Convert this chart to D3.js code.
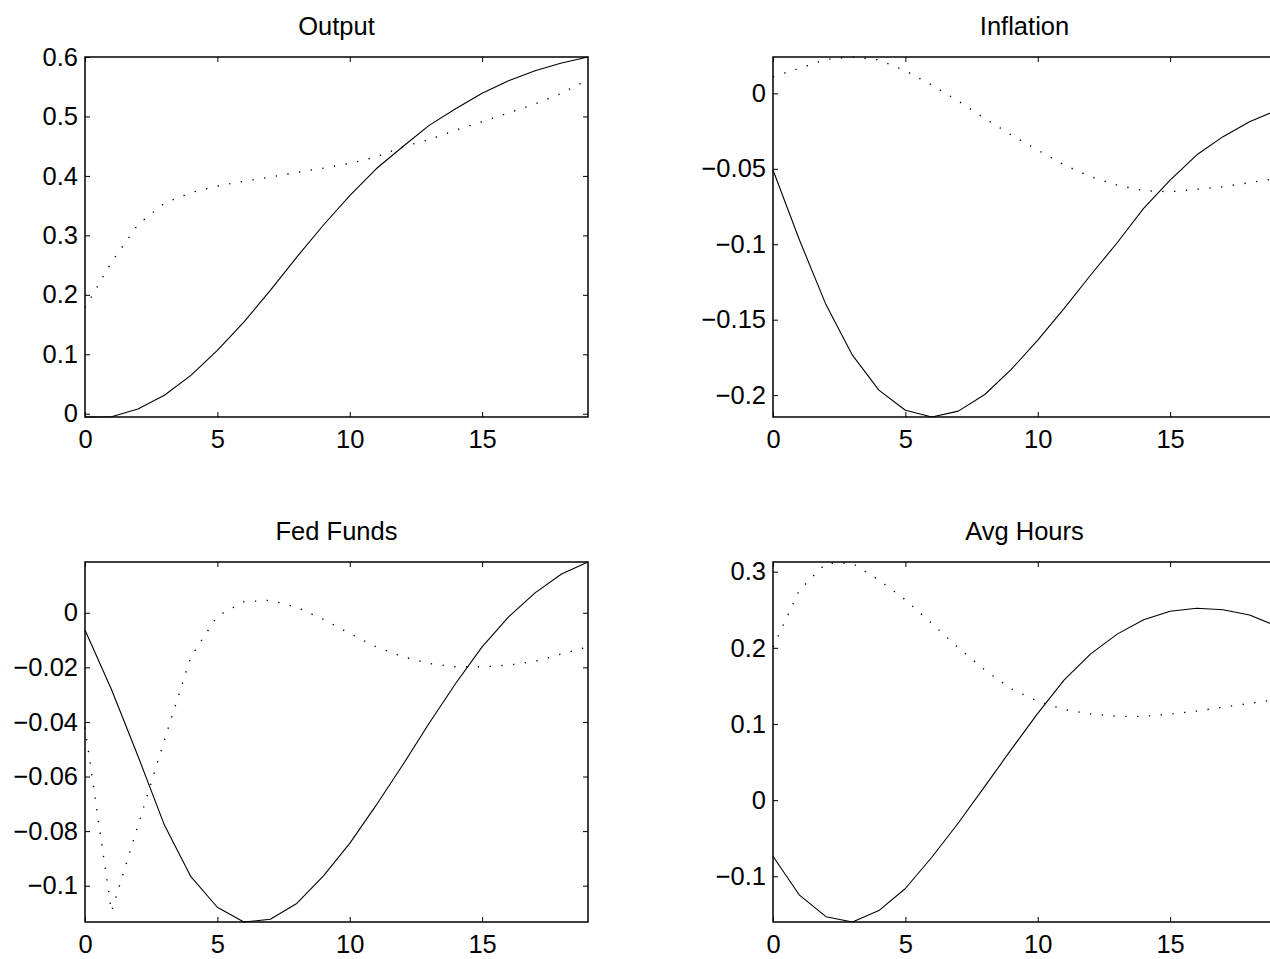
<!DOCTYPE html>
<html>
<head>
<meta charset="utf-8">
<script src="https://cdn.jsdelivr.net/npm/d3@7"></script>
<style>
  html, body { margin: 0; padding: 0; background: #fff; overflow: hidden; }
  svg { display: block; }
  text { font-family: "Liberation Sans", Arial, Helvetica, sans-serif; fill: #000; }
</style>
</head>
<body>
<script>
// Horizon (quarters after the shock)
const horizon = [0, 1, 2, 3, 4, 5, 6, 7, 8, 9, 10, 11, 12, 13, 14, 15, 16, 17, 18, 19];
const xTicks = [0, 5, 10, 15];

// Output
const outputSolid  = [-0.0055, -0.005, 0.008, 0.031, 0.0645, 0.1065, 0.154, 0.2075, 0.2635, 0.317, 0.367, 0.412, 0.449, 0.485, 0.513, 0.539, 0.560, 0.577, 0.590, 0.600];
const outputDotted = [0.178, 0.255, 0.318, 0.354, 0.372, 0.383, 0.391, 0.398, 0.406, 0.413, 0.421, 0.432, 0.449, 0.461, 0.477, 0.491, 0.506, 0.521, 0.539, 0.562];
const outputLimits = [-0.0055, 0.6];
const outputTicks  = [0, 0.1, 0.2, 0.3, 0.4, 0.5, 0.6];

// Inflation
const inflationSolid  = [-0.0508, -0.0972, -0.140, -0.1735, -0.1967, -0.210, -0.2145, -0.2106, -0.1996, -0.183, -0.1635, -0.1425, -0.1204, -0.099, -0.0762, -0.0575, -0.0409, -0.0287, -0.0188, -0.0115];
const inflationDotted = [0.011, 0.0166, 0.0225, 0.0241, 0.0222, 0.015, 0.0055, -0.0051, -0.0166, -0.0276, -0.0376, -0.0475, -0.0552, -0.0608, -0.0645, -0.0652, -0.0636, -0.0619, -0.0592, -0.0564];
const inflationLimits = [-0.2145, 0.0241];
const inflationTicks  = [-0.2, -0.15, -0.1, -0.05, 0];

// Fed Funds
const fedFundsSolid  = [-0.0063, -0.0281, -0.0525, -0.0778, -0.0967, -0.1079, -0.1133, -0.1123, -0.1065, -0.0965, -0.0845, -0.0705, -0.0558, -0.0405, -0.0259, -0.0125, -0.0015, 0.0073, 0.0142, 0.0186];
const fedFundsDotted = [-0.042, -0.1095, -0.078, -0.0466, -0.0161, -0.0012, 0.004, 0.0046, 0.002, -0.0024, -0.0076, -0.0125, -0.0161, -0.0186, -0.0198, -0.0198, -0.0192, -0.0178, -0.0151, -0.0125];
const fedFundsLimits = [-0.1133, 0.0186];
const fedFundsTicks  = [-0.1, -0.08, -0.06, -0.04, -0.02, 0];

// Avg Hours
const avgHoursSolid  = [-0.0736, -0.1248, -0.153, -0.160, -0.145, -0.116, -0.075, -0.030, 0.018, 0.0666, 0.114, 0.158, 0.192, 0.218, 0.237, 0.248, 0.252, 0.250, 0.243, 0.229];
const avgHoursDotted = [0.201, 0.276, 0.311, 0.311, 0.289, 0.263, 0.232, 0.200, 0.171, 0.146, 0.130, 0.119, 0.113, 0.110, 0.110, 0.113, 0.117, 0.122, 0.127, 0.132];
const avgHoursLimits = [-0.160, 0.3127];
const avgHoursTicks  = [-0.1, 0, 0.1, 0.2, 0.3];

const width = 1270, height = 959;
const boxW = 503, boxH = 360;
const tickLen = 5;
const fontSize = 25.5;
const fmt = d3.format("~g");

const panels = [
  { title: "Output",    solid: outputSolid,    dotted: outputDotted,    yLim: outputLimits,    yTicks: outputTicks,    left: 85,  top: 57 },
  { title: "Inflation", solid: inflationSolid, dotted: inflationDotted, yLim: inflationLimits, yTicks: inflationTicks, left: 773, top: 57 },
  { title: "Fed Funds", solid: fedFundsSolid,  dotted: fedFundsDotted,  yLim: fedFundsLimits,  yTicks: fedFundsTicks,  left: 85,  top: 562 },
  { title: "Avg Hours", solid: avgHoursSolid,  dotted: avgHoursDotted,  yLim: avgHoursLimits,  yTicks: avgHoursTicks,  left: 773, top: 562 }
];

const svg = d3.select("body").append("svg")
  .attr("width", width)
  .attr("height", height)
  .attr("viewBox", [0, 0, width, height]);

panels.forEach((p, i) => {
  const g = svg.append("g").attr("transform", `translate(${p.left},${p.top})`);

  const x = d3.scaleLinear().domain([0, 19]).range([0, boxW]);
  const y = d3.scaleLinear().domain(p.yLim).range([boxH, 0]);

  // clip so curves stay inside the box
  const clipId = `clip-${i}`;
  g.append("clipPath").attr("id", clipId)
    .append("rect").attr("x", -1).attr("y", -1).attr("width", boxW + 2).attr("height", boxH + 2);

  const line = d3.line()
    .x((d, j) => x(horizon[j]))
    .y(d => y(d));

  const curves = g.append("g").attr("clip-path", `url(#${clipId})`);

  curves.append("path")
    .datum(p.dotted)
    .attr("d", line)
    .attr("fill", "none")
    .attr("stroke", "#000")
    .attr("stroke-width", 1.4)
    .attr("stroke-dasharray", "1.3,10.5");

  curves.append("path")
    .datum(p.solid)
    .attr("d", line)
    .attr("fill", "none")
    .attr("stroke", "#000")
    .attr("stroke-width", 1.1)
    .attr("stroke-linejoin", "round");

  // axes: inward ticks on all four sides, labels left and bottom
  const styleAxis = sel => {
    sel.select(".domain").remove();
    sel.selectAll(".tick line").attr("stroke", "#000").attr("stroke-width", 1);
    sel.selectAll(".tick text").attr("font-size", fontSize).attr("font-family", null);
  };

  g.append("g")
    .attr("transform", `translate(0,${boxH})`)
    .call(d3.axisBottom(x).tickValues(xTicks).tickFormat(fmt).tickSize(-tickLen).tickPadding(13))
    .call(styleAxis);

  g.append("g")
    .call(d3.axisTop(x).tickValues(xTicks).tickFormat("").tickSize(-tickLen))
    .call(styleAxis);

  g.append("g")
    .call(d3.axisLeft(y).tickValues(p.yTicks).tickFormat(fmt).tickSize(-tickLen).tickPadding(7))
    .call(styleAxis);

  g.append("g")
    .attr("transform", `translate(${boxW},0)`)
    .call(d3.axisRight(y).tickValues(p.yTicks).tickFormat("").tickSize(-tickLen))
    .call(styleAxis);

  // box
  g.append("rect")
    .attr("width", boxW)
    .attr("height", boxH)
    .attr("fill", "none")
    .attr("stroke", "#000")
    .attr("stroke-width", 1.5);

  // title
  g.append("text")
    .attr("x", boxW / 2)
    .attr("y", -22)
    .attr("text-anchor", "middle")
    .attr("font-size", fontSize)
    .text(p.title);
});
</script>
</body>
</html>
